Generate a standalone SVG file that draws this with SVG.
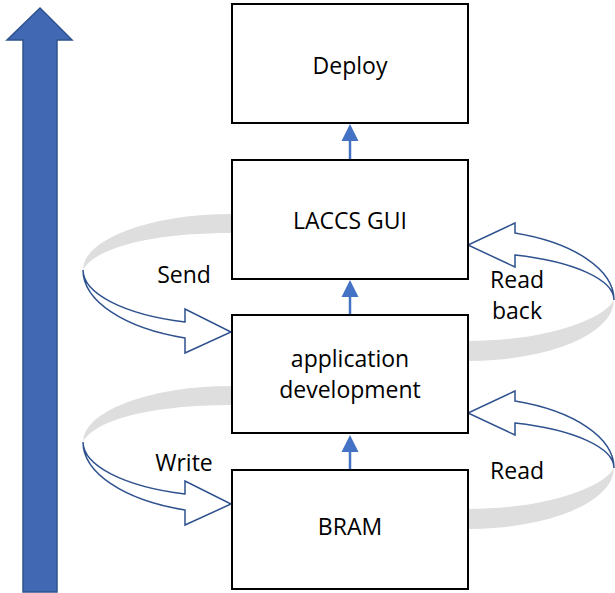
<svg xmlns="http://www.w3.org/2000/svg" width="615" height="593" viewBox="0 0 615 593">
<style>
.box{fill:#ffffff;stroke:#000000;stroke-width:2}
.lbl{font-family:"Open Sans","Liberation Sans",Arial,sans-serif;font-size:23px;fill:#000000;text-anchor:middle}
.band{fill:#dedede;stroke:none}
.carrow{fill:#ffffff;stroke:#2f528f;stroke-width:1.5;stroke-linejoin:miter}
.link{stroke:#4472c4;stroke-width:2.5;fill:none}
.head{fill:#4472c4;stroke:none}
</style>
<defs>
<g id="curveL">
<path class="band" d="M 232,214 A 149,56 0 0 0 83,270 C 95,248 150,233 232,233 Z"/>
<path class="carrow" d="M 83,270 A 149,71.7 0 0 0 185,338 L 185,353 L 231,332 L 185,309 L 185,322 A 149,55 0 0 1 83,270 Z"/>
</g>
<g id="curveR">
<path class="band" d="M 468,341 C 545,341 603,320 614,300 A 146,61 0 0 1 468,361 Z"/>
<path class="carrow" d="M 614,300 A 146,70.7 0 0 0 515,233 L 515,223 L 468,245 L 515,267 L 515,255 A 146,47.5 0 0 1 614,300 Z"/>
</g>
</defs>
<g id="progress-arrow">
<path d="M 40,8 L 72,40 L 57,40 L 57,592 L 23,592 L 23,40 L 7,40 Z" fill="#4169b3" stroke="#2f528f" stroke-width="1.5"/>
</g>
<g id="connectors">
<line class="link" x1="350" y1="160" x2="350" y2="140"/>
<path class="head" d="M 350,124 L 358.5,141 L 341.5,141 Z"/>
<line class="link" x1="350" y1="315" x2="350" y2="296"/>
<path class="head" d="M 350,280 L 358.5,297 L 341.5,297 Z"/>
<line class="link" x1="350" y1="470" x2="350" y2="451"/>
<path class="head" d="M 350,435 L 358.5,452 L 341.5,452 Z"/>
<use href="#curveL"/>
<use href="#curveL" transform="translate(0,172)"/>
<use href="#curveR"/>
<use href="#curveR" transform="translate(0,168)"/>
</g>
<g id="deploy">
<rect class="box" x="232" y="4" width="236" height="119"/>
<text class="lbl" x="350" y="74">Deploy</text>
</g>
<g id="laccs-gui">
<rect class="box" x="232" y="160" width="236" height="119"/>
<text class="lbl" x="350" y="229">LACCS GUI</text>
</g>
<g id="app-dev">
<rect class="box" x="232" y="315" width="236" height="118"/>
<text class="lbl" x="350" y="367">application</text>
<text class="lbl" x="350" y="398">development</text>
</g>
<g id="bram">
<rect class="box" x="232" y="470" width="236" height="119"/>
<text class="lbl" x="350" y="535">BRAM</text>
</g>
<g id="labels">
<text class="lbl" x="184" y="283">Send</text>
<text class="lbl" x="184" y="471">Write</text>
<text class="lbl" x="517" y="288">Read</text>
<text class="lbl" x="517" y="319">back</text>
<text class="lbl" x="517" y="479">Read</text>
</g>
</svg>
